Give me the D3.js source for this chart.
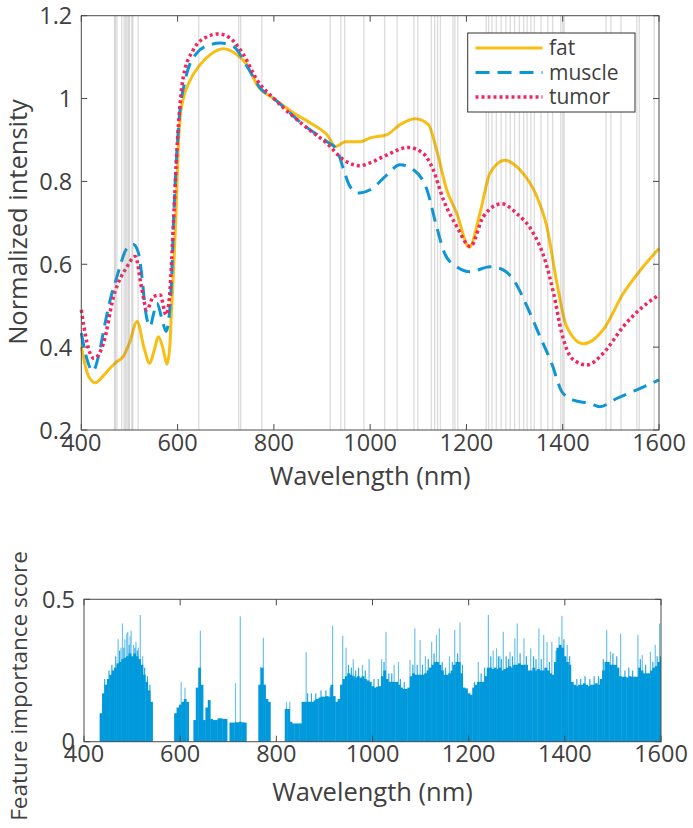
<!DOCTYPE html>
<html><head><meta charset="utf-8">
<script src="https://cdn.jsdelivr.net/npm/d3@7"></script>
<style>
body{margin:0;background:#fff}
svg{display:block}
text{font-family:"Open Sans",sans-serif;fill:#404040}
</style>
</head><body>
<svg id="c" width="693" height="828"></svg>
<script>
// ---------- data ----------
const fatData = [[400,0.40],[415,0.33],[429,0.314],[445,0.33],[462,0.352],[474,0.365],[487,0.377],[500,0.41],[516,0.462],[530,0.40],[542,0.361],[551,0.39],[560,0.425],[569,0.40],[578,0.359],[584,0.405],[587,0.48],[592,0.594],[597,0.73],[601,0.87],[605,0.95],[612,1.0],[623,1.037],[647,1.082],[668,1.106],[695,1.120],[723,1.106],[744,1.082],[765,1.033],[800,1.0],[841,0.965],[876,0.941],[910,0.913],[929,0.884],[948,0.896],[979,0.896],[1000,0.905],[1035,0.913],[1062,0.937],[1093,0.951],[1121,0.937],[1138,0.876],[1159,0.780],[1180,0.723],[1206,0.641],[1228,0.723],[1249,0.820],[1280,0.851],[1311,0.828],[1346,0.764],[1367,0.691],[1388,0.554],[1408,0.450],[1443,0.408],[1484,0.442],[1526,0.530],[1567,0.594],[1600,0.638]];
const muscleData = [[400,0.434],[412,0.37],[424,0.342],[438,0.39],[448,0.45],[460,0.514],[474,0.570],[495,0.639],[508,0.648],[518,0.63],[526,0.570],[533,0.49],[543,0.45],[550,0.48],[557,0.506],[568,0.466],[576,0.438],[582,0.47],[587,0.55],[592,0.715],[602,0.933],[616,1.045],[640,1.110],[668,1.130],[689,1.134],[716,1.126],[744,1.078],[772,1.025],[800,1.0],[861,0.937],[910,0.896],[931,0.876],[945,0.828],[958,0.788],[976,0.772],[1000,0.78],[1035,0.816],[1062,0.840],[1090,0.828],[1118,0.780],[1138,0.691],[1156,0.623],[1180,0.594],[1208,0.582],[1249,0.594],[1277,0.586],[1298,0.562],[1326,0.498],[1353,0.425],[1377,0.361],[1398,0.293],[1422,0.272],[1457,0.264],[1477,0.256],[1512,0.276],[1554,0.297],[1600,0.321]];
const tumorData = [[400,0.49],[412,0.41],[426,0.373],[446,0.409],[467,0.522],[495,0.594],[512,0.619],[526,0.538],[536,0.49],[550,0.522],[564,0.526],[576,0.478],[583,0.52],[592,0.715],[599,0.884],[612,1.053],[633,1.118],[661,1.149],[685,1.156],[709,1.146],[737,1.106],[765,1.045],[800,1.0],[869,0.929],[910,0.892],[945,0.852],[979,0.838],[1000,0.845],[1035,0.864],[1079,0.882],[1110,0.868],[1131,0.828],[1152,0.756],[1180,0.691],[1208,0.643],[1235,0.715],[1273,0.746],[1304,0.723],[1339,0.675],[1363,0.611],[1381,0.530],[1398,0.434],[1419,0.373],[1450,0.357],[1484,0.385],[1526,0.450],[1567,0.498],[1600,0.526]];
const seriesNames = ["fat","muscle","tumor"];
const selectedWavelengths = [469,471,474,484,489,492,495,498,500,505,507,518,644,727,731,775,917,939,947,987,1030,1056,1091,1099,1127,1134,1140,1146,1172,1176,1182,1241,1246,1253,1262,1272,1282,1291,1300,1310,1319,1326,1334,1341,1355,1369,1379,1396,1400,1403,1490,1500,1521,1554,1559,1590];

const importanceStart = 400, importanceStep = 5;
const importanceBase = [
0,0,0,0,0,0,0,0.10,0.17,0.20,
0.22,0.235,0.25,0.26,0.275,0.28,0.29,0.295,0.30,0.31,
0.30,0.31,0.30,0.29,0.27,0.235,0.21,0.18,0.14,0,
0,0,0,0,0,0,0,0,0.10,0.12,
0.13,0.14,0.15,0.14,0,0,0.076,0.19,0.26,0.2,
0.076,0.12,0.146,0.08,0.076,0.076,0.082,0.082,0.08,0.08,
0,0.067,0.067,0.068,0.068,0.07,0.068,0.067,0,0,
0,0,0,0.20,0.26,0.20,0.15,0.14,0,0,
0,0,0,0,0.115,0.115,0.07,0.064,0.064,0.064,
0.064,0.14,0.14,0.14,0.14,0.14,0.145,0.15,0.155,0.158,
0.158,0.16,0.158,0.2,0.16,0.14,0.15,0.2,0.22,0.23,
0.24,0.235,0.23,0.225,0.23,0.225,0.23,0.22,0.215,0.21,
0.195,0.19,0.193,0.195,0.23,0.25,0.22,0.21,0.21,0.21,
0.21,0.2,0.19,0.185,0.185,0.19,0.23,0.24,0.235,0.235,
0.235,0.235,0.24,0.25,0.26,0.27,0.28,0.28,0.27,0.25,
0.235,0.235,0.24,0.25,0.27,0.28,0.28,0.24,0.19,0.187,
0.17,0.165,0.19,0.2,0.21,0.21,0.21,0.23,0.26,0.26,
0.255,0.26,0.255,0.26,0.25,0.255,0.26,0.265,0.26,0.27,
0.27,0.275,0.27,0.27,0.27,0.25,0.25,0.26,0.25,0.255,
0.25,0.25,0.26,0.25,0.24,0.235,0.28,0.33,0.34,0.33,
0.30,0.28,0.27,0.21,0.2,0.195,0.2,0.2,0.205,0.2,
0.195,0.2,0.2,0.205,0.2,0.22,0.25,0.28,0.28,0.27,
0.27,0.27,0.26,0.23,0.228,0.228,0.225,0.23,0.228,0.228,
0.228,0.26,0.25,0.24,0.24,0.24,0.25,0.26,0.265,0.28,
0.30];
const importancePeaks = [[471,0.36],[477,0.33],[480,0.415],[485,0.36],[489,0.38],[491,0.386],[496,0.37],[498,0.39],[503,0.34],[508,0.35],[513,0.33],[517,0.445],[522,0.30],[602,0.21],[610,0.19],[642,0.39],[659,0.146],[715,0.205],[725,0.44],[767,0.263],[773,0.365],[821,0.14],[828,0.14],[862,0.314],[917,0.407],[938,0.372],[945,0.33],[960,0.29],[979,0.27],[993,0.29],[1019,0.29],[1028,0.386],[1045,0.27],[1054,0.28],[1078,0.287],[1088,0.398],[1099,0.357],[1110,0.30],[1123,0.351],[1133,0.375],[1139,0.398],[1160,0.30],[1171,0.392],[1182,0.419],[1220,0.28],[1241,0.445],[1251,0.32],[1258,0.328],[1265,0.30],[1272,0.386],[1286,0.316],[1296,0.363],[1301,0.415],[1315,0.363],[1329,0.328],[1346,0.398],[1356,0.375],[1363,0.351],[1373,0.351],[1388,0.369],[1394,0.442],[1405,0.34],[1487,0.392],[1495,0.316],[1516,0.38],[1552,0.375],[1561,0.305],[1578,0.316],[1588,0.34],[1597,0.415]];
const importanceMinorPeaks = [[443,0.22],[452,0.25],[458,0.27],[466,0.3],[474,0.32],[483,0.33],[494,0.34],[506,0.33],[511,0.32],[526,0.26],[532,0.23],[537,0.2],[865,0.17],[873,0.17],[882,0.17],[893,0.18],[903,0.18],[912,0.19],[950,0.27],[956,0.26],[965,0.25],[971,0.26],[985,0.25],[1003,0.22],[1012,0.22],[1024,0.28],[1034,0.24],[1040,0.24],[1058,0.22],[1066,0.21],[1084,0.27],[1093,0.27],[1104,0.27],[1116,0.29],[1128,0.31],[1145,0.28],[1152,0.26],[1166,0.28],[1177,0.31],[1187,0.27],[1212,0.21],[1226,0.24],[1233,0.26],[1246,0.3],[1262,0.3],[1268,0.29],[1278,0.3],[1283,0.29],[1291,0.3],[1307,0.31],[1320,0.3],[1335,0.3],[1340,0.29],[1351,0.29],[1368,0.28],[1382,0.32],[1398,0.36],[1410,0.3],[1425,0.22],[1433,0.22],[1442,0.23],[1452,0.22],[1461,0.23],[1470,0.23],[1480,0.29],[1500,0.31],[1508,0.3],[1525,0.25],[1533,0.26],[1541,0.25],[1557,0.29],[1568,0.27],[1583,0.28],[1592,0.3]];

const xTicks = [400,600,800,1000,1200,1400,1600];
const yTicksTop = [0.2,0.4,0.6,0.8,1,1.2];
const yTickLabelsTop = ["0.2","0.4","0.6","0.8","1","1.2"];
const yTicksBottom = [0,0.5];
const yTickLabelsBottom = ["0","0.5"];

// ---------- drawing ----------
const svg = d3.select("#c");
const FS = 23.5, LFS = 25.5, LEGFS = 21;
const axisColor = "#4a4a4a";
const colors = {fat:"#F8BE14", muscle:"#0A97D9", tumor:"#F5245E"};

function boxAxes(g, x, y, xt, yt, ytl, labPad) {
  const [x0,x1] = x.range(), [y1,y0] = y.range();
  const tl = 6;
  g.append("rect").attr("x",x0).attr("y",y0).attr("width",x1-x0).attr("height",y1-y0)
    .attr("fill","none").attr("stroke",axisColor).attr("stroke-width",1);
  xt.forEach(t=>{
    const px = x(t);
    g.append("line").attr("x1",px).attr("x2",px).attr("y1",y1).attr("y2",y1-tl).attr("stroke",axisColor);
    g.append("line").attr("x1",px).attr("x2",px).attr("y1",y0).attr("y2",y0+tl).attr("stroke",axisColor);
    g.append("text").attr("x",px).attr("y",y1+labPad).attr("text-anchor","middle")
      .attr("font-size",FS).text(String(t));
  });
  yt.forEach((t,i)=>{
    const py = y(t);
    g.append("line").attr("x1",x0).attr("x2",x0+tl).attr("y1",py).attr("y2",py).attr("stroke",axisColor);
    g.append("line").attr("x1",x1).attr("x2",x1-tl).attr("y1",py).attr("y2",py).attr("stroke",axisColor);
    g.append("text").attr("x",x0-9).attr("y",py+8.5).attr("text-anchor","end")
      .attr("font-size",FS).text(ytl[i]);
  });
}

// ---- top chart ----
const xT = d3.scaleLinear().domain([400,1600]).range([81.3,659]);
const yT = d3.scaleLinear().domain([0.2,1.2]).range([430,15.7]);
const gT = svg.append("g");

const line = d3.line().x(d=>xT(d[0])).y(d=>yT(d[1])).curve(d3.curveMonotoneX);
gT.append("path").datum(fatData).attr("d",line).attr("fill","none")
  .attr("stroke",colors.fat).attr("stroke-width",3);
gT.append("path").datum(muscleData).attr("d",line).attr("fill","none")
  .attr("stroke",colors.muscle).attr("stroke-width",3).attr("stroke-dasharray","14,8");
gT.append("path").datum(tumorData).attr("d",line).attr("fill","none")
  .attr("stroke",colors.tumor).attr("stroke-width",3.5).attr("stroke-dasharray","3,3");

gT.selectAll("line.sel").data(selectedWavelengths).enter().append("line")
  .attr("class","sel")
  .attr("x1",d=>xT(d)).attr("x2",d=>xT(d))
  .attr("y1",yT(0.2)).attr("y2",yT(1.2))
  .attr("stroke","#808080").attr("stroke-opacity",0.28).attr("stroke-width",1.3);

boxAxes(gT, xT, yT, xTicks, yTicksTop, yTickLabelsTop, 21);

gT.append("text").attr("x",(81.3+659)/2).attr("y",485).attr("text-anchor","middle")
  .attr("font-size",LFS).text("Wavelength (nm)");
gT.append("text").attr("transform","translate(27,222) rotate(-90)").attr("text-anchor","middle")
  .attr("font-size",LFS).text("Normalized intensity");

// legend
const lg = gT.append("g");
lg.append("rect").attr("x",467.7).attr("y",33).attr("width",167.3).attr("height",79)
  .attr("fill","#fff").attr("stroke","#333").attr("stroke-width",1);
const legY = [48,72.5,97];
seriesNames.forEach((s,i)=>{
  const l = lg.append("line").attr("x1",475.5).attr("x2",542.5).attr("y1",legY[i]).attr("y2",legY[i])
    .attr("stroke",colors[s]).attr("stroke-width",s==="tumor"?3.5:3);
  if(s==="muscle") l.attr("stroke-dasharray","14,8");
  if(s==="tumor") l.attr("stroke-dasharray","3,3");
  lg.append("text").attr("x",549).attr("y",legY[i]+7).attr("font-size",LEGFS).text(s);
});

// ---- bottom chart ----
const xB = d3.scaleLinear().domain([400,1600]).range([84,661]);
const yB = d3.scaleLinear().domain([0,0.5]).range([741.7,599.3]);
const gB = svg.append("g");
const bw = xB(importanceStep) - xB(0);

function spikes(data, cls, color) {
  gB.selectAll("rect."+cls).data(data).enter().append("rect")
    .attr("class",cls)
    .attr("x",d=>xB(d[0])-0.6).attr("width",1.2)
    .attr("y",d=>yB(d[1])).attr("height",d=>yB(0)-yB(d[1]))
    .attr("fill",color);
}
spikes(importancePeaks, "pk", "#6cc3ec");
spikes(importanceMinorPeaks, "mpk", "#2ea9e2");

const baseData = importanceBase.map((v,i)=>[importanceStart+i*importanceStep, v]).filter(d=>d[1]>0);
gB.selectAll("rect.b").data(baseData).enter().append("rect")
  .attr("class","b")
  .attr("x",d=>Math.max(xB(400), xB(d[0])-bw/2)).attr("width",d=>Math.min(bw+0.4, xB(1600)-(xB(d[0])-bw/2)))
  .attr("y",d=>yB(d[1])).attr("height",d=>yB(0)-yB(d[1]))
  .attr("fill","#0099DB");

boxAxes(gB, xB, yB, xTicks, yTicksBottom, yTickLabelsBottom, 20);

gB.append("text").attr("x",(84+661)/2).attr("y",801).attr("text-anchor","middle")
  .attr("font-size",LFS).text("Wavelength (nm)");
gB.append("text").attr("transform","translate(27,686) rotate(-90)").attr("text-anchor","middle")
  .attr("font-size",22.5).text("Feature importance score");
</script>
</body></html>
